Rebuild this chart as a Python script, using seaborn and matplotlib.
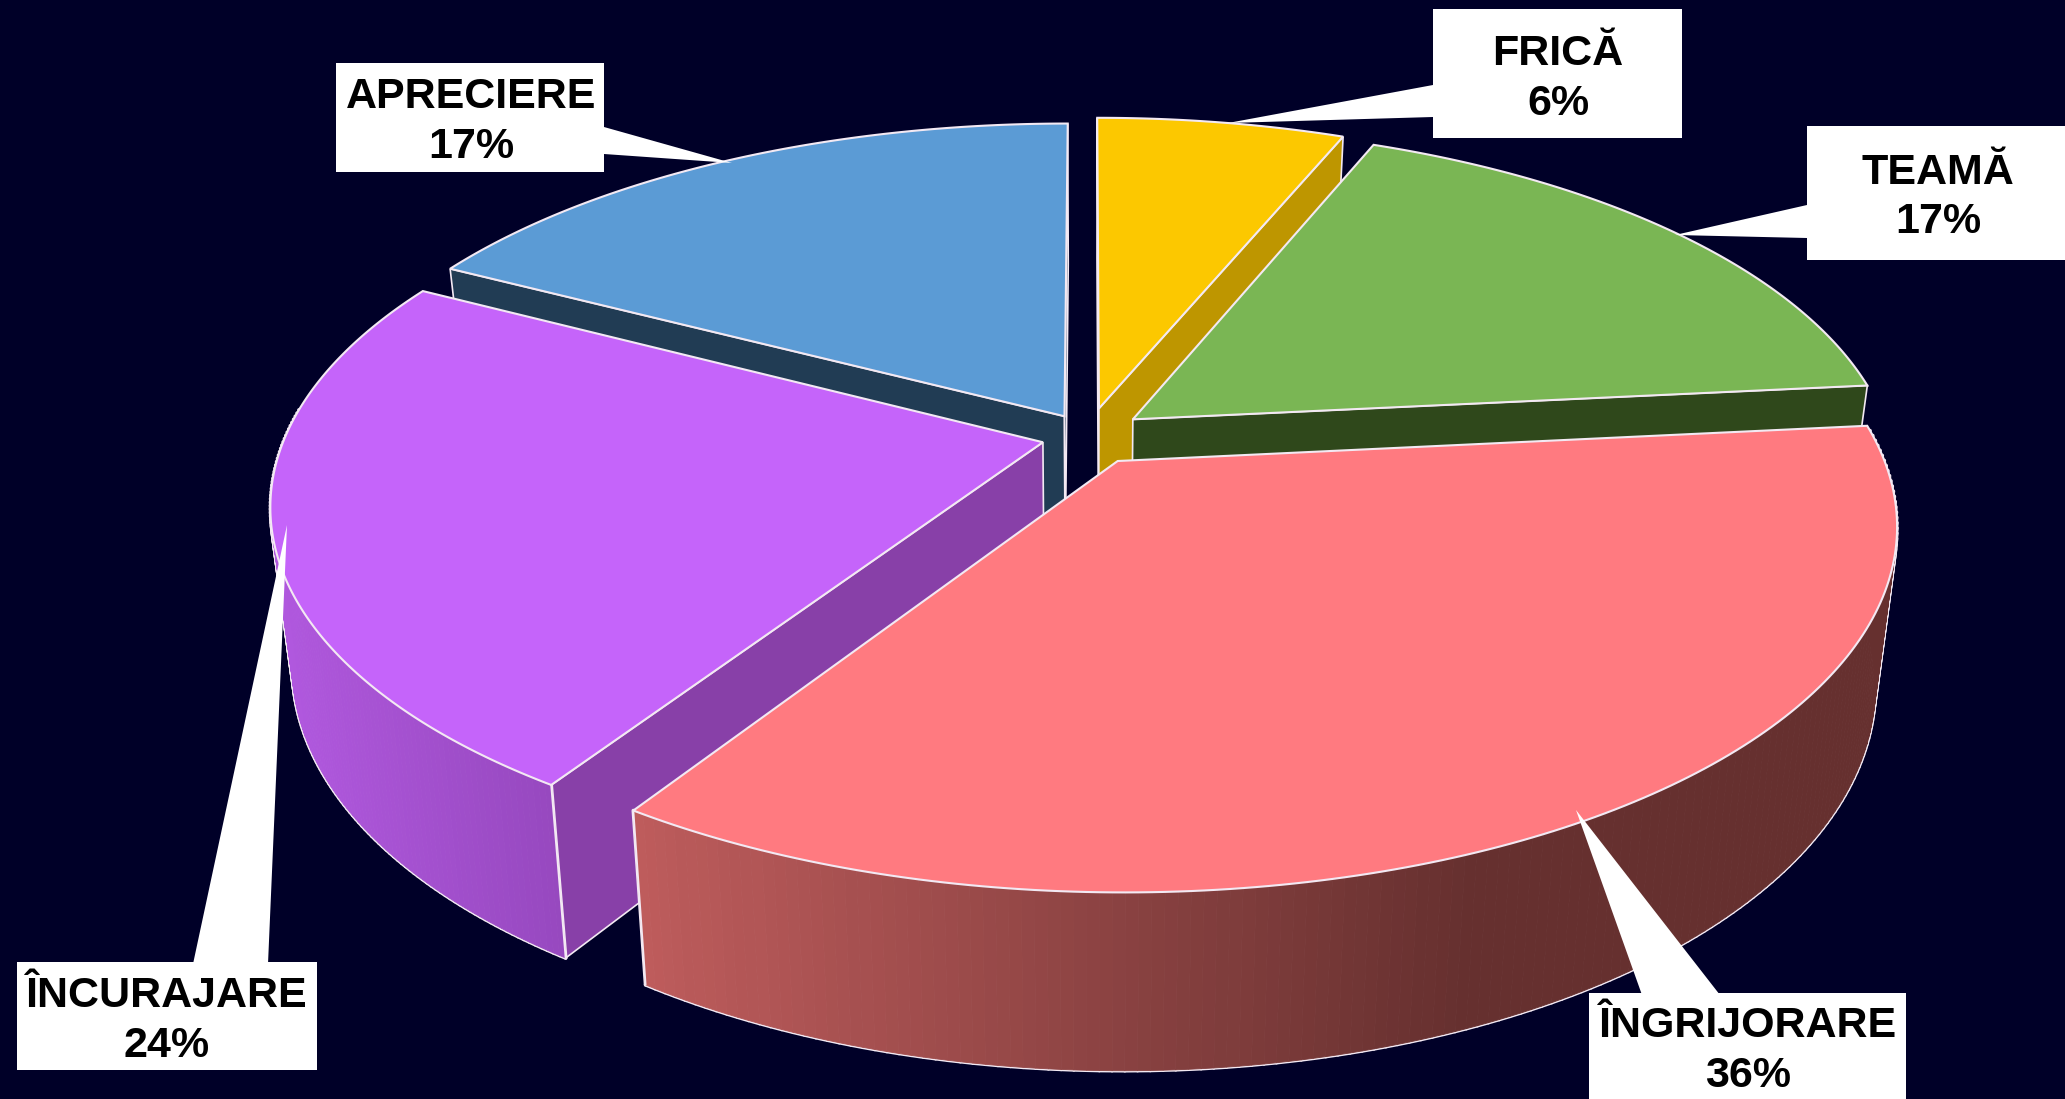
import numpy as np
import matplotlib
matplotlib.use("Agg")
import matplotlib.pyplot as plt
import seaborn as sns

# chart values, clockwise from 12 o'clock (labels show them rounded)
categories = ["FRICĂ", "TEAMĂ", "ÎNGRIJORARE", "ÎNCURAJARE", "APRECIERE"]
shares = [6.2, 17.2, 35.8, 23.5, 17.3]

# how far each slice is pulled out, across and in depth
explode_x = [0.016, 0.061, 0.040, -0.058, -0.030]
explode_d = [0.083, 0.051, -0.068, -0.015, 0.060]

top_colors = ["#FCC800", "#7AB654", "#FF7A80", "#C564FA", "#5B9BD5"]
side_colors = ["#BE9600", "#2F481B", "#66302F", "#8840A8", "#213C54"]
wall_colors = [("#BE9600", "#BE9600"), ("#2F481B", "#2F481B"), ("#BE5C5C", "#66302F"),
               ("#B058DE", "#9648BE"), ("#213C54", "#213C54")]
wall_x_range = [(0, 1), (0, 1), (630, 1470), (275, 560), (0, 1)]

draw_order = [0, 4, 1, 3, 2]

# callouts: box (x0, y0, x1, y1), leader polygon, text centre, two baselines
boxes = [(1433, 9, 1682, 138), (1807, 126, 2070, 260), (1589, 993, 1906, 1110),
         (17, 962, 317, 1070), (336, 63, 604, 172)]
leaders = [[(1433, 85), (1433, 117), (1228, 123)],
           [(1807, 205), (1807, 238), (1675, 235)],
           [(1642, 995), (1720, 995), (1576, 810)],
           [(193, 964), (268, 964), (287, 525)],
           [(604, 127), (604, 154), (732, 163)]]
text_x = [1558, 1938, 1748, 167, 471]
name_y = [65, 184, 1037, 1007, 108]
pct_y = [115, 233, 1087, 1057, 158]

BG = "#000028"
EDGE = "#F3E9F3"
CX, CY = 1087, 437
A, B, K = 758, 349, 0.17
HEIGHT, SHRINK = 156, 0.027

sns.set_theme(style="dark", rc={"axes.facecolor": BG, "figure.facecolor": BG})
plt.rcParams["font.family"] = ["Liberation Sans", "DejaVu Sans"]


def project(x, d, bottom=False):
    # tilted disc with some perspective, d is depth towards the back
    w = 1 + K * d
    sx = A * x / w
    sy = -B * d / w
    if bottom:
        return CX + sx * (1 - SHRINK), CY + sy * (1 - SHRINK) + HEIGHT / w
    return CX + sx, CY + sy


fig = plt.figure(figsize=(20.65, 10.99), dpi=100)
ax = fig.add_axes([0, 0, 1, 1])
ax.set_xlim(0, 2065)
ax.set_ylim(1099, 0)
ax.axis("off")

edges = np.cumsum([0] + shares) / sum(shares) * 2 * np.pi

for z, i in enumerate(draw_order, start=10):
    t0, t1 = edges[i], edges[i + 1]
    ex, ed = explode_x[i], explode_d[i]
    th = np.linspace(t0, t1, 160)
    rim_x, rim_d = ex + np.sin(th), ed + np.cos(th)
    tx, ty = project(rim_x, rim_d)
    bx, by = project(rim_x, rim_d, bottom=True)
    tip_x, tip_y = project(ex, ed)
    tip_bx, tip_by = project(ex, ed, bottom=True)

    # flat sides that face the viewer
    for t, flip in ((t0, -1), (t1, 1)):
        if np.cos(t + flip * np.pi / 2) < 0.01:
            rx, rd = ex + np.sin(t), ed + np.cos(t)
            px, py = project(rx, rd)
            qx, qy = project(rx, rd, bottom=True)
            ax.fill([tip_x, px, qx, tip_bx], [tip_y, py, qy, tip_by],
                    color=side_colors[i], ec=EDGE, lw=1.2, zorder=z)

    # outline first and wider, the wall strips then hide all of it but the outer rim
    seen = np.cos(th) < 0.1
    if seen.any():
        ax.plot(bx[seen], by[seen], color=EDGE, lw=2.6, zorder=z + 0.1)
        for j in np.flatnonzero(seen):
            ax.plot([tx[j], bx[j]], [ty[j], by[j]], color=EDGE, lw=2.6, zorder=z + 0.1)

    # outer wall, shaded in thin strips from left to right
    strips = sns.blend_palette(wall_colors[i], 64)
    x0, x1 = wall_x_range[i]
    for j in range(len(th) - 1):
        if seen[j] or seen[j + 1]:
            f = np.clip((tx[j] - x0) / (x1 - x0), 0, 1)
            ax.fill([tx[j], tx[j + 1], bx[j + 1], bx[j]], [ty[j], ty[j + 1], by[j + 1], by[j]],
                    color=strips[int(f * 63)], lw=0.6, zorder=z + 0.2)

    # corner lines where the wall meets a flat side
    for e in (0, len(th) - 1):
        if seen[e]:
            ax.plot([tx[e], bx[e]], [ty[e], by[e]], color=EDGE, lw=1.4, zorder=z + 0.3)

    ax.fill(np.r_[tip_x, tx], np.r_[tip_y, ty], color=top_colors[i], ec=EDGE, lw=1.5,
            joinstyle="miter", zorder=z + 0.4)

for name, share, box, poly, x, y1, y2 in zip(categories, shares, boxes, leaders, text_x, name_y, pct_y):
    ax.fill(*zip(*poly), color="white", lw=0, zorder=30)
    ax.fill([box[0], box[2], box[2], box[0]], [box[1], box[1], box[3], box[3]],
            color="white", lw=0, zorder=31)
    ax.text(x, y1, name, ha="center", va="baseline", fontsize=31, fontweight="bold",
            color="black", zorder=32)
    ax.text(x, y2, f"{round(share)}%", ha="center", va="baseline", fontsize=31, fontweight="bold",
            color="black", zorder=32)

fig.savefig("out.png", dpi=100, facecolor=BG)
